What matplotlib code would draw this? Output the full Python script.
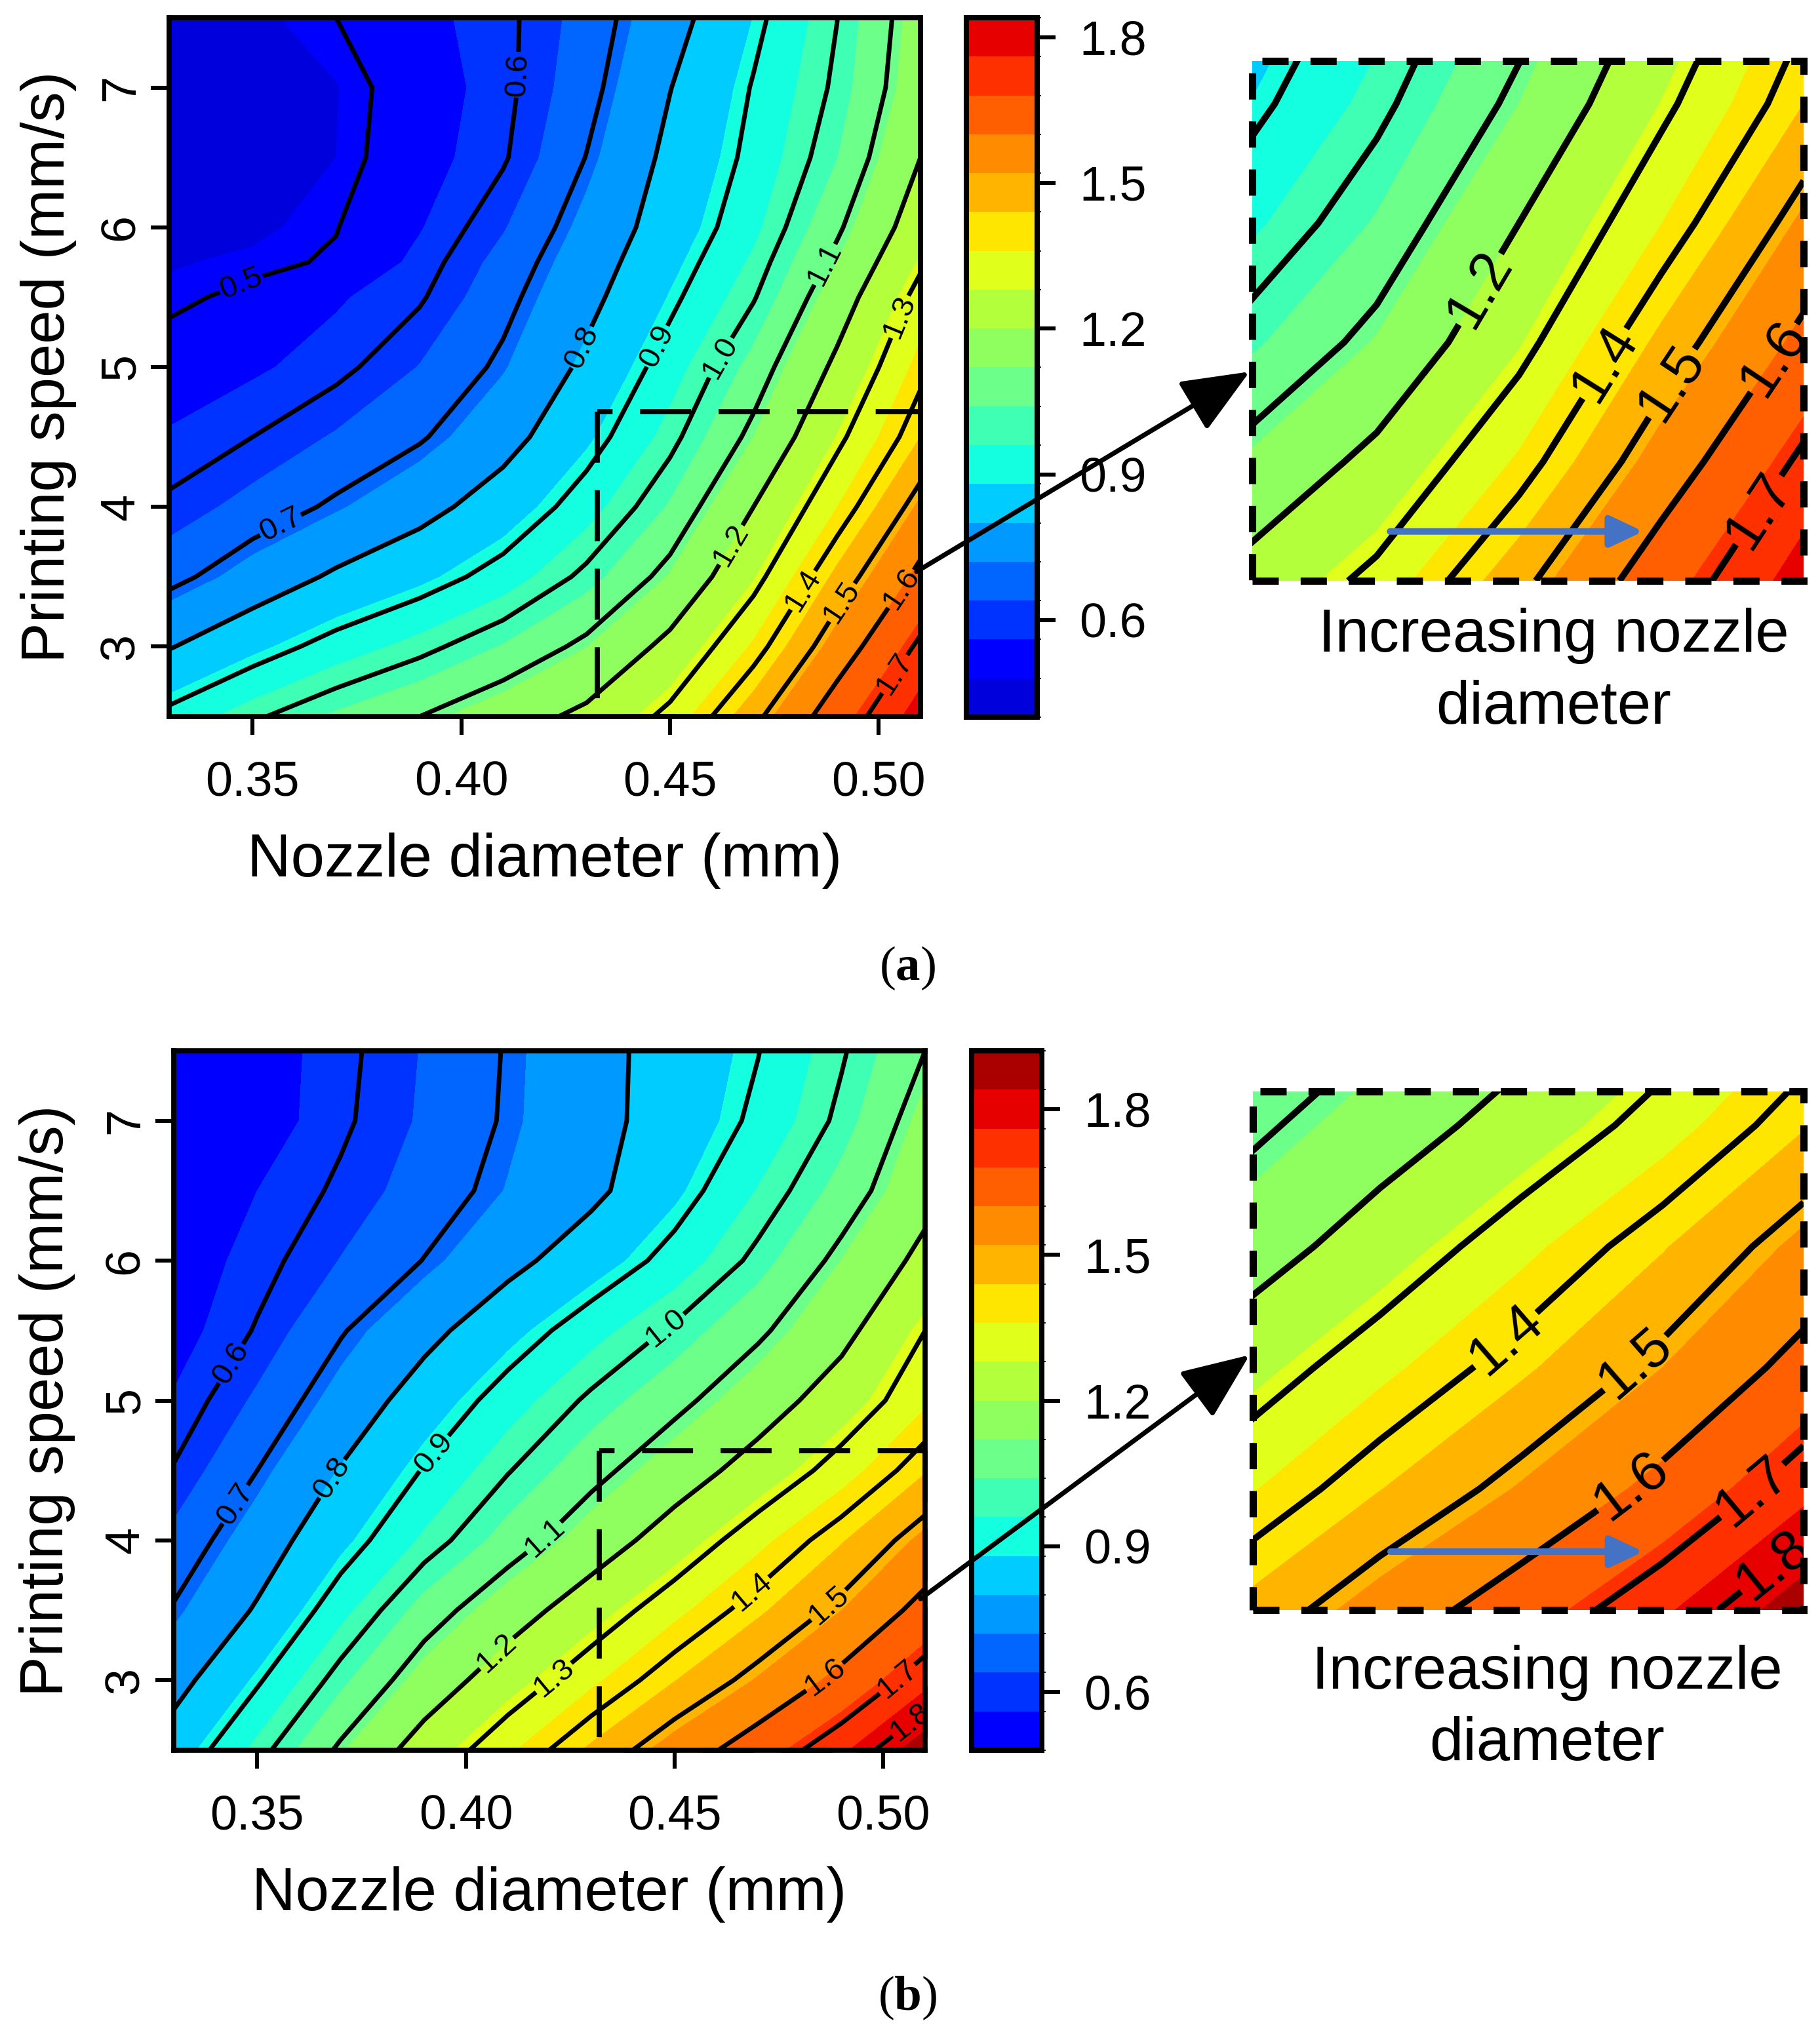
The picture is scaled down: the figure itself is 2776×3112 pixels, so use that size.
import numpy as np
import matplotlib
matplotlib.use('Agg')
import matplotlib.pyplot as plt
from matplotlib.colors import BoundaryNorm, ListedColormap
from matplotlib.patches import FancyArrowPatch, Rectangle

W, H = 2776, 3112

nozzle = [0.33, 0.35, 0.37, 0.39, 0.41, 0.43, 0.45, 0.47, 0.49, 0.51]
speed_a = [2.5, 3.0, 3.5, 4.0, 4.5, 5.0, 5.5, 5.75, 6.0, 6.5, 7.0, 7.5]
speed_b = [2.5, 3.0, 3.5, 4.0, 4.5, 5.0, 5.5, 6.0, 6.5, 7.0, 7.5]

# one row per speed, bottom row first
width_a = [
  [0.920, 0.990, 1.050, 1.100, 1.160, 1.220, 1.320, 1.480, 1.650, 1.790],
  [0.795, 0.864, 0.927, 0.981, 1.044, 1.118, 1.224, 1.369, 1.551, 1.715],
  [0.678, 0.747, 0.813, 0.864, 0.928, 1.016, 1.125, 1.274, 1.456, 1.622],
  [0.611, 0.660, 0.712, 0.771, 0.842, 0.934, 1.046, 1.200, 1.359, 1.533],
  [0.566, 0.600, 0.646, 0.692, 0.768, 0.868, 0.981, 1.120, 1.282, 1.440],
  [0.526, 0.551, 0.584, 0.642, 0.714, 0.818, 0.932, 1.061, 1.218, 1.381],
  [0.489, 0.513, 0.553, 0.593, 0.679, 0.776, 0.884, 0.995, 1.156, 1.326],
  [0.476, 0.488, 0.506, 0.575, 0.660, 0.758, 0.862, 0.970, 1.120, 1.288],
  [0.460, 0.470, 0.498, 0.556, 0.635, 0.739, 0.842, 0.945, 1.088, 1.250],
  [0.450, 0.460, 0.480, 0.536, 0.593, 0.702, 0.821, 0.919, 1.038, 1.200],
  [0.440, 0.455, 0.478, 0.529, 0.584, 0.676, 0.798, 0.905, 1.012, 1.163],
  [0.450, 0.470, 0.500, 0.543, 0.585, 0.662, 0.767, 0.881, 0.999, 1.152],
]
width_b = [
  [0.843, 0.977, 1.113, 1.241, 1.350, 1.451, 1.550, 1.646, 1.748, 1.880],
  [0.769, 0.891, 1.026, 1.146, 1.250, 1.347, 1.438, 1.526, 1.624, 1.739],
  [0.706, 0.809, 0.941, 1.064, 1.157, 1.250, 1.344, 1.429, 1.520, 1.629],
  [0.655, 0.754, 0.863, 0.970, 1.064, 1.151, 1.243, 1.343, 1.435, 1.537],
  [0.604, 0.700, 0.805, 0.905, 0.996, 1.077, 1.154, 1.237, 1.332, 1.435],
  [0.565, 0.650, 0.744, 0.842, 0.932, 1.012, 1.080, 1.156, 1.245, 1.350],
  [0.535, 0.605, 0.694, 0.774, 0.858, 0.938, 1.010, 1.087, 1.174, 1.300],
  [0.525, 0.580, 0.642, 0.702, 0.775, 0.848, 0.925, 1.017, 1.121, 1.224],
  [0.510, 0.560, 0.610, 0.666, 0.723, 0.780, 0.867, 0.963, 1.061, 1.171],
  [0.490, 0.530, 0.590, 0.648, 0.708, 0.771, 0.839, 0.915, 1.015, 1.141],
  [0.490, 0.530, 0.585, 0.644, 0.705, 0.771, 0.835, 0.898, 0.993, 1.100],
]

band_colors = ['#0000dd', '#0000ff', '#0033ff', '#0066ff', '#0099ff', '#00ccff',
               '#14ffe0', '#3fffb5', '#6cff8a', '#8fff60', '#b4ff3c', '#e0ff1a',
               '#ffe600', '#ffb400', '#ff8c00', '#ff5f00', '#ff3000', '#e60000', '#aa0000']
bands_a = [0.40, 0.48, 0.56, 0.64, 0.72, 0.80, 0.88, 0.96, 1.04, 1.12, 1.20, 1.28, 1.36, 1.44, 1.52, 1.60, 1.68, 1.76, 1.84]
bands_b = [0.48, 0.56, 0.64, 0.72, 0.80, 0.88, 0.96, 1.04, 1.12, 1.20, 1.28, 1.36, 1.44, 1.52, 1.60, 1.68, 1.76, 1.84, 1.92]
lines_a = [0.5, 0.6, 0.7, 0.8, 0.9, 1.0, 1.1, 1.2, 1.3, 1.4, 1.5, 1.6, 1.7]
lines_b = [0.6, 0.7, 0.8, 0.9, 1.0, 1.1, 1.2, 1.3, 1.4, 1.5, 1.6, 1.7, 1.8]

x_ticks = [0.35, 0.40, 0.45, 0.50]
y_ticks = [3, 4, 5, 6, 7]
bar_ticks = [0.6, 0.9, 1.2, 1.5, 1.8]

plt.rcParams['font.family'] = ['Liberation Sans', 'DejaVu Sans']
plt.rcParams['mathtext.fontset'] = 'custom'
plt.rcParams['mathtext.rm'] = 'Liberation Serif'
plt.rcParams['mathtext.bf'] = 'Liberation Serif:bold'


def box(fig, left, top, right, bottom):
  return fig.add_axes([left / W, 1 - bottom / H, (right - left) / W, (bottom - top) / H])


def fills(ax, speed, z, bands, cmap, norm):
  # draw twice so that no hairlines show between the bands
  cf = ax.contourf(nozzle, speed, z, levels=bands, cmap=cmap, norm=norm, extend='neither')
  ax.contourf(nozzle, speed, z, levels=bands, cmap=cmap, norm=norm, extend='neither')
  return cf


def panel(fig, speed, z, bands, colors, lines, frame, bar, inset, zoom_box, labels, inset_labels, arrow, blue_y, text_x, text_y, ylabel_pad):
  cmap = ListedColormap(colors)
  norm = BoundaryNorm(bands, len(colors))
  x0, y1 = zoom_box

  ax = box(fig, *frame)
  ax.set_xlim(0.33, 0.51)
  ax.set_ylim(2.5, 7.5)
  cf = fills(ax, speed, z, bands, cmap, norm)
  cs = ax.contour(nozzle, speed, z, levels=lines, colors='black', linewidths=2.5)
  ax.clabel(cs, fmt='%.1f', fontsize=17, manual=labels, inline=True, inline_spacing=2)
  ax.set_xticks(x_ticks, ['%.2f' % t for t in x_ticks])
  ax.set_yticks(y_ticks, [str(t) for t in y_ticks])
  ax.tick_params(length=10, width=2.2, labelsize=26.5)
  ax.tick_params(axis='x', pad=14)
  ax.tick_params(axis='y', pad=4)
  for t in ax.get_yticklabels():
    t.set_rotation(90)
    t.set_va('center')
  ax.set_xlabel('Nozzle diameter (mm)', fontsize=33.2, labelpad=15)
  ax.set_ylabel('Printing speed (mm/s)', fontsize=33.2, labelpad=ylabel_pad)
  for s in ax.spines.values():
    s.set_linewidth(2.8)
  # dashed box of the region shown enlarged, dashes start at its top left corner
  ax.plot([x0, 0.51], [y1, y1], color='black', lw=2.8, ls=(7, (10, 5.4)), clip_on=False, zorder=5)
  ax.plot([x0, x0], [y1, 2.5], color='black', lw=2.8, ls=(0, (10, 5.4)), clip_on=False, zorder=5)
  ax.plot([0.51, 0.51, x0], [y1, 2.5, 2.5], color='black', lw=2.8, ls=(0, (10, 5.4)), clip_on=False, zorder=5)

  cax = box(fig, *bar)
  cb = fig.colorbar(cf, cax=cax, ticks=bar_ticks, spacing='proportional')
  cb.ax.set_yticklabels(['%.1f' % t for t in bar_ticks])
  cb.ax.tick_params(length=10, width=2.2, labelsize=26.5, pad=13)
  cb.outline.set_linewidth(2.9)
  cb.dividers.set_visible(False)

  ins = box(fig, *inset)
  ins.set_xlim(x0, 0.51)
  ins.set_ylim(2.5, y1)
  fills(ins, speed, z, bands, cmap, norm)
  cs2 = ins.contour(nozzle, speed, z, levels=lines, colors='black', linewidths=3.6)
  ins.clabel(cs2, fmt='%.1f', fontsize=31, manual=inset_labels, inline=True, inline_spacing=3)
  ins.set_xticks([])
  ins.set_yticks([])
  for s in ins.spines.values():
    s.set_visible(False)
  ins.add_patch(Rectangle((0, 0), 1, 1, transform=ins.transAxes, fill=False, ec='black', lw=4,
                          ls=(0, (3.6, 3)), clip_on=False, zorder=5))
  ins.annotate('', xy=(0.709, blue_y), xytext=(0.25, blue_y), xycoords='axes fraction',
               textcoords='axes fraction', zorder=6,
               arrowprops=dict(arrowstyle='-|>,head_width=0.45,head_length=0.95', color='#4472c4',
                               lw=3.6, mutation_scale=16, shrinkA=0, shrinkB=0))

  (ax0, ay0), (ax1, ay1) = arrow
  fig.add_artist(FancyArrowPatch((ax0 / W, 1 - ay0 / H), (ax1 / W, 1 - ay1 / H),
                                 transform=fig.transFigure, arrowstyle='-|>,head_width=0.42,head_length=1.0',
                                 mutation_scale=32, color='black', lw=2.6, shrinkA=0, shrinkB=0, zorder=10))

  fig.text(text_x / W, 1 - text_y[0] / H, 'Increasing nozzle', fontsize=33.2, ha='center', va='center')
  fig.text(text_x / W, 1 - text_y[1] / H, 'diameter', fontsize=33.2, ha='center', va='center')


fig = plt.figure(figsize=(W / 200, H / 200), dpi=200)

panel(fig, speed_a, width_a, bands_a, band_colors[:18], lines_a,
      (258, 27, 1404, 1093), (1474, 27, 1582, 1094), (1910, 93, 2751, 886), (0.4325, 4.68),
      [(0.348, 5.54), (0.4157, 7.09), (0.357, 3.85), (0.429, 5.14), (0.4475, 5.14), (0.463, 5.05), (0.488, 5.72),
       (0.465, 3.72), (0.505, 5.36), (0.482, 3.40), (0.491, 3.32), (0.505, 3.42), (0.503, 2.82)],
      [(0.4658, 3.70), (0.4826, 3.40), (0.4924, 3.31), (0.506, 3.43), (0.504, 2.79)],
      ((1398, 872), (1906, 567)), 0.095, 2370, (970, 1080), 12)

panel(fig, speed_b, width_b, bands_b, band_colors[1:], lines_b,
      (265, 1603, 1411, 2670), (1482, 1603, 1589, 2670), (1911, 1665, 2751, 2456), (0.432, 4.64),
      [(0.344, 5.26), (0.3446, 4.26), (0.368, 4.44), (0.3916, 4.64), (0.4476, 5.53), (0.4187, 4.02), (0.4078, 3.18),
       (0.421, 3.02), (0.4687, 3.62), (0.4868, 3.54), (0.486, 3.02), (0.503, 3.02), (0.506, 2.72)],
      [(0.4694, 3.56), (0.4875, 3.475), (0.4867, 2.97), (0.5033, 2.97), (0.5063, 2.66)],
      ((1404, 2439), (1906, 2067)), 0.1125, 2360, (2552, 2661), 15)

fig.text(1384 / W, 1 - 1477 / H, r'($\mathbf{a}$)', fontsize=27, ha='center', va='center', family='Liberation Serif')
fig.text(1384 / W, 1 - 3048 / H, r'($\mathbf{b}$)', fontsize=27, ha='center', va='center', family='Liberation Serif')

fig.savefig('out.png', dpi=200)
